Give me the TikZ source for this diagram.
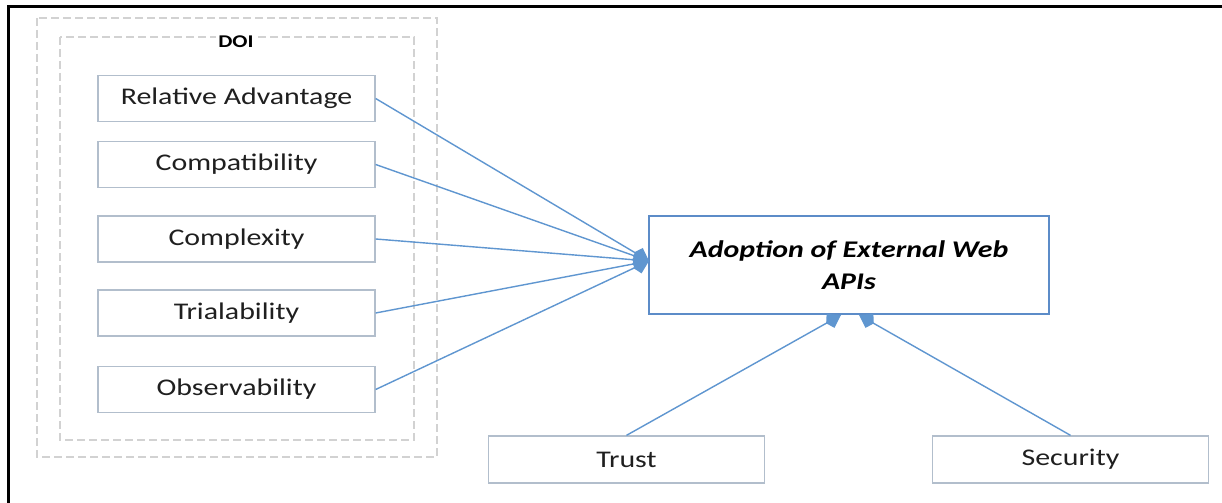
\documentclass[tikz,border=0pt]{standalone}
\usepackage{fontspec}
\setmainfont[FakeStretch=1.25]{Carlito}
\usetikzlibrary{arrows.meta}
\definecolor{lineblue}{RGB}{95,150,208}
\definecolor{boxgray}{RGB}{178,190,204}
\definecolor{dashgray}{RGB}{210,210,210}
\definecolor{mainblue}{RGB}{92,140,200}
\tikzset{
  x={(1bp,0)}, y={(0,-1bp)},
  factor/.style={draw=boxgray, line width=1.3bp, fill=white, minimum width=277bp, minimum height=46bp, inner sep=0pt, font=\fontsize{24}{26}\selectfont, text=black!88},
  outerbox/.style={draw=boxgray, line width=1.3bp, fill=white, minimum width=276bp, minimum height=47bp, inner sep=0pt, font=\fontsize{24}{26}\selectfont, text=black!88},
  dashbox/.style={draw=dashgray, line width=1.2bp, dash pattern=on 8bp off 4bp},
  conn/.style={draw=lineblue, line width=1.4bp, -{Kite[length=17bp,width=16bp,inset=5bp]}},
}
\begin{document}
\begin{tikzpicture}
\useasboundingbox (0,0) rectangle (1222,503);
\fill[white] (0,0) rectangle (1222,503);
% frame
\draw[black, line width=3bp] (8.5,503) -- (8.5,7) -- (1222,7);
% DOI dashed boxes
\draw[dashbox] (37,18) rectangle (437,457);
\draw[dashbox] (60,37) rectangle (414,440);
\node[font=\bfseries\fontsize{18}{20}\selectfont, fill=white, inner sep=2bp] (doi) at (236,42) {DOI};
% factor nodes
\node[factor] (ra) at (236.5,98.5) {Relative Advantage};
\node[factor] (comp) at (236.5,164.5) {Compatibility};
\node[factor] (cplx) at (236.5,239) {Complexity};
\node[factor] (trial) at (236.5,313) {Trialability};
\node[factor] (obs) at (236.5,389.5) {Observability};
% main node
\node[draw=mainblue, line width=2.5bp, fill=white, minimum width=400bp, minimum height=98bp, inner sep=0pt, align=center, font=\bfseries\itshape\fontsize{24}{32}\selectfont, text=black] (aewa) at (849,265) {Adoption of External Web\\APIs};
% bottom nodes
\node[outerbox] (trust) at (626.5,459.5) {Trust};
\node[outerbox] (sec) at (1070.5,459.5) {Security};
% connectors
\coordinate (tipL) at (649,261);
\coordinate (tipB1) at (841,315);
\coordinate (tipB2) at (859,315);
\draw[conn] (ra.east) -- (tipL);
\draw[conn] (comp.east) -- (tipL);
\draw[conn] (cplx.east) -- (tipL);
\draw[conn] (trial.east) -- (tipL);
\draw[conn] (obs.east) -- (tipL);
\draw[conn] (trust.north) -- (tipB1);
\draw[conn] (sec.north) -- (tipB2);
\end{tikzpicture}
\end{document}
